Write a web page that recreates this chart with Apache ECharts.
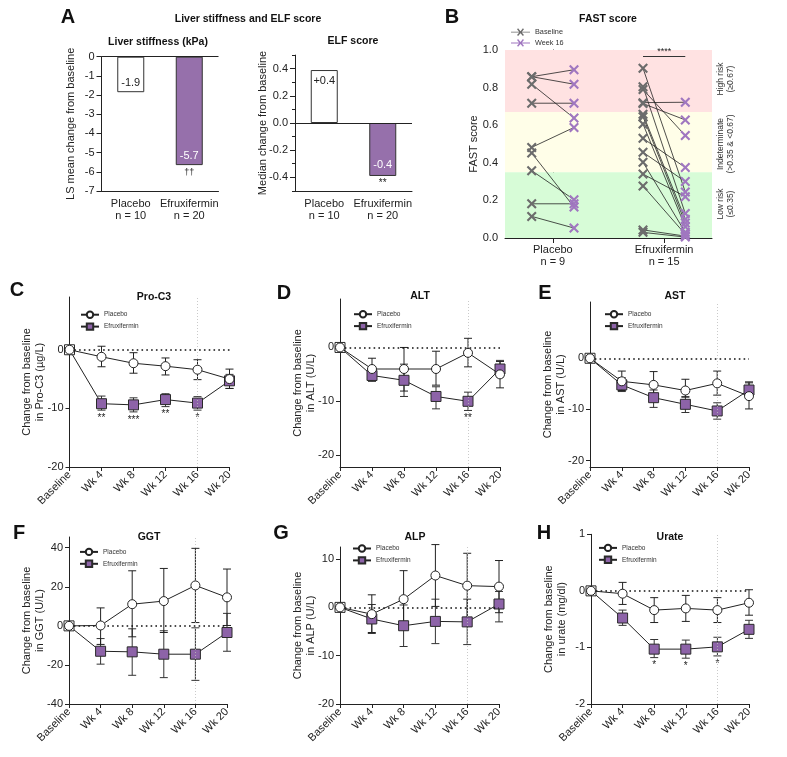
<!DOCTYPE html>
<html><head><meta charset="utf-8">
<script src="https://cdn.jsdelivr.net/npm/echarts@6/dist/echarts.min.js"></script>
<style>html,body{margin:0;padding:0;background:#fff}#c{width:787px;height:757px}</style>
</head><body><div id="c"></div>
<script>
// ---------------- DATA ----------------
const barGroups = ['Placebo\nn = 10', 'Efruxifermin\nn = 20'];
const liverStiffness = [-1.85, -5.65];
const liverStiffnessLabels = ['-1.9', '-5.7'];
const liverStiffnessSig = ['', '††'];
const elfScore = [0.39, -0.39];
const elfScoreLabels = ['+0.4', '-0.4'];
const elfScoreSig = ['', '**'];

const fastGroups = ['Placebo\nn = 9', 'Efruxifermin\nn = 15'];
const fastPlaceboBaseline = [0.858, 0.858, 0.818, 0.717, 0.482, 0.452, 0.358, 0.182, 0.115];
const fastPlaceboWeek16   = [0.895, 0.818, 0.638, 0.717, 0.588, 0.165, 0.204, 0.182, 0.053];
const fastEfxBaseline = [0.903, 0.805, 0.79, 0.72, 0.715, 0.658, 0.645, 0.606, 0.53, 0.456, 0.403, 0.34, 0.277, 0.043, 0.03];
const fastEfxWeek16   = [0.245, 0.13, 0.545, 0.722, 0.628, 0.10, 0.08, 0.06, 0.375, 0.30, 0.03, 0.22, 0.02, 0.01, 0.005];
const fastSig = '****';

const visits = ['Baseline', 'Wk 4', 'Wk 8', 'Wk 12', 'Wk 16', 'Wk 20'];

const proc3PboMean = [0, -1.2, -2.3, -2.8, -3.4, -5.0];
const proc3PboLo   = [0, -2.9, -4.0, -4.3, -5.1, -6.6];
const proc3PboHi   = [0, 0.6, -0.5, -1.4, -1.7, -3.3];
const proc3EfxMean = [0, -9.2, -9.4, -8.5, -9.1, -5.3];
const proc3EfxLo   = [0, -10.3, -10.6, -9.7, -10.3, -6.6];
const proc3EfxHi   = [0, -7.9, -8.2, -7.5, -8.0, -4.2];
const proc3Sig     = ['', '**', '***', '**', '*', ''];

const altPboMean = [0, -4.0, -4.0, -4.0, -1.0, -5.0];
const altPboLo   = [0, -6.0, -8.1, -7.0, -3.6, -7.5];
const altPboHi   = [0, -2.0, 0.0, -0.7, 1.7, -2.6];
const altEfxMean = [0, -5.2, -6.1, -9.1, -10.0, -4.0];
const altEfxLo   = [0, -6.3, -9.1, -11.4, -11.7, -5.5];
const altEfxHi   = [0, -4.0, -3.1, -7.3, -8.3, -2.4];
const altSig     = ['', '', '', '', '**', ''];

const astPboMean = [0, -4.5, -5.2, -6.3, -4.9, -7.4];
const astPboLo   = [0, -6.3, -7.5, -7.6, -7.2, -9.9];
const astPboHi   = [0, -2.5, -2.6, -4.1, -2.5, -4.8];
const astEfxMean = [0, -5.2, -7.7, -9.0, -10.3, -6.2];
const astEfxLo   = [0, -6.5, -9.6, -10.6, -11.9, -7.7];
const astEfxHi   = [0, -3.8, -6.2, -7.5, -8.7, -4.6];
const astSig     = ['', '', '', '', '', ''];

const ggtPboMean = [0, 0.2, 11.1, 12.7, 20.7, 14.6];
const ggtPboLo   = [0, -9.5, -5.6, -3.4, 1.7, 0.2];
const ggtPboHi   = [0, 9.2, 28.2, 29.4, 39.7, 29.1];
const ggtEfxMean = [0, -13.0, -13.3, -14.5, -14.5, -3.4];
const ggtEfxLo   = [0, -19.6, -25.3, -26.5, -27.9, -13.0];
const ggtEfxHi   = [0, -6.5, -1.5, -2.5, -1.0, 6.4];
const ggtSig     = ['', '', '', '', '', ''];

const alpPboMean = [0, -1.4, 1.7, 6.6, 4.5, 4.3];
const alpPboLo   = [0, -5.2, -4.3, 0.2, -2.1, -1.1];
const alpPboHi   = [0, 2.6, 7.6, 13.0, 11.2, 9.7];
const alpEfxMean = [0, -2.4, -3.8, -2.9, -3.0, 0.7];
const alpEfxLo   = [0, -5.4, -8.1, -7.5, -7.7, -3.0];
const alpEfxHi   = [0, 0.6, 0.5, 1.7, 1.7, 3.3];
const alpSig     = ['', '', '', '', '', ''];

const uratePboMean = [0, -0.05, -0.34, -0.31, -0.34, -0.21];
const uratePboLo   = [0, -0.24, -0.56, -0.54, -0.56, -0.43];
const uratePboHi   = [0, 0.15, -0.12, -0.08, -0.12, 0.02];
const urateEfxMean = [0, -0.48, -1.03, -1.03, -0.99, -0.68];
const urateEfxLo   = [0, -0.61, -1.18, -1.19, -1.15, -0.84];
const urateEfxHi   = [0, -0.34, -0.86, -0.87, -0.82, -0.52];
const urateSig     = ['', '', '*', '*', '*', ''];

// ---------------- STYLE / LAYOUT ----------------
const FONT = '"Liberation Sans", Arial, sans-serif';
const INK = '#222';
const BAR_PURPLE = '#9670ab';
const MK_PURPLE = '#8d63a8';
const X_PURPLE = '#a077c0';
const X_GRAY = '#6c6c6c';
const X_PATH = 'path://M0,1.5L1.5,0L5,3.5L8.5,0L10,1.5L6.5,5L10,8.5L8.5,10L5,6.5L1.5,10L0,8.5L3.5,5Z';
const LEG_X = 'path://M0,4L22,4L22,5L0,5Z M7,1.2L8.2,0L11,3.3L13.8,0L15,1.2L12.2,4.5L15,7.8L13.8,9L11,5.7L8.2,9L7,7.8L9.8,4.5Z';
const fastOffsets = [-0.19, 0.19];

const panels = [
  {title: 'Pro-C3', yName: 'Change from baseline\nin Pro-C3 (µg/L)', grid: {left: 69.5, top: 297, width: 160, height: 170},
   y: {min: -20, max: 9, ticks: [-20, -10, 0]}, legend: {left: 80, top: 310.5},
   pm: proc3PboMean, pl: proc3PboLo, ph: proc3PboHi, em: proc3EfxMean, el: proc3EfxLo, eh: proc3EfxHi, sig: proc3Sig},
  {title: 'ALT', yName: 'Change from baseline\nin ALT (U/L)', grid: {left: 340, top: 299, width: 160, height: 168},
   y: {min: -22.2, max: 9, ticks: [-20, -10, 0]}, legend: {left: 353, top: 310},
   pm: altPboMean, pl: altPboLo, ph: altPboHi, em: altEfxMean, el: altEfxLo, eh: altEfxHi, sig: altSig},
  {title: 'AST', yName: 'Change from baseline\nin AST (U/L)', grid: {left: 590, top: 302, width: 159, height: 165},
   y: {min: -21.25, max: 11, ticks: [-20, -10, 0]}, legend: {left: 604, top: 310},
   pm: astPboMean, pl: astPboLo, ph: astPboHi, em: astEfxMean, el: astEfxLo, eh: astEfxHi, sig: astSig},
  {title: 'GGT', yName: 'Change from baseline\nin GGT (U/L)', grid: {left: 69, top: 537, width: 158, height: 167},
   y: {min: -40, max: 45.5, ticks: [-40, -20, 0, 20, 40]}, legend: {left: 79, top: 547.7},
   pm: ggtPboMean, pl: ggtPboLo, ph: ggtPboHi, em: ggtEfxMean, el: ggtEfxLo, eh: ggtEfxHi, sig: ggtSig},
  {title: 'ALP', yName: 'Change from baseline\nin ALP (U/L)', grid: {left: 340, top: 547, width: 159, height: 157},
   y: {min: -20, max: 12.5, ticks: [-20, -10, 0, 10]}, legend: {left: 352, top: 544.3},
   pm: alpPboMean, pl: alpPboLo, ph: alpPboHi, em: alpEfxMean, el: alpEfxLo, eh: alpEfxHi, sig: alpSig},
  {title: 'Urate', yName: 'Change from baseline\nin urate (mg/dl)', grid: {left: 591, top: 534.3, width: 158, height: 169.7},
   y: {min: -2, max: 1, ticks: [-2, -1, 0, 1]}, legend: {left: 598, top: 543.7},
   pm: uratePboMean, pl: uratePboLo, ph: uratePboHi, em: urateEfxMean, el: urateEfxLo, eh: urateEfxHi, sig: urateSig}
];

const titles = [
  ['A', 68, 17, 'bold 20px'], ['B', 452, 17, 'bold 20px'],
  ['C', 17, 290, 'bold 20px'], ['D', 284, 293, 'bold 20px'], ['E', 545, 293, 'bold 20px'],
  ['F', 19, 533, 'bold 20px'], ['G', 281, 533, 'bold 20px'], ['H', 544, 533, 'bold 20px'],
  ['Liver stiffness and ELF score', 248, 19.5, 'bold 10.5px'],
  ['Liver stiffness (kPa)', 158, 42, 'bold 10.5px'],
  ['ELF score', 353, 41, 'bold 10.5px'],
  ['FAST score', 608, 19.5, 'bold 10.5px'],
  ['Pro-C3', 154, 297, 'bold 10.5px'], ['ALT', 420, 296, 'bold 10.5px'], ['AST', 675, 296, 'bold 10.5px'],
  ['GGT', 149, 537, 'bold 10.5px'], ['ALP', 415, 537, 'bold 10.5px'], ['Urate', 670, 537, 'bold 10.5px']
];
const bandLabels = [
  ['High risk\n(≥0.67)', 726, 79], ['Indeterminate\n(>0.35 & <0.67)', 726, 144], ['Low risk\n(≤0.35)', 726, 204]
];

// ---------------- BUILD ----------------
const grid = [], xAxis = [], yAxis = [], series = [], legend = [], graphic = [];

function yAx(gi, o) {
  return Object.assign({
    type: 'value', gridIndex: gi, position: 'left', nameLocation: 'middle', nameRotate: 90, nameMoveOverlap: false,
    nameTextStyle: {fontSize: 11, color: INK, lineHeight: 13, fontFamily: FONT},
    axisLine: {show: true, lineStyle: {color: INK, width: 1}},
    axisTick: {show: true, length: 5, lineStyle: {color: INK}},
    axisLabel: {fontSize: 11, color: INK, margin: 7, fontFamily: FONT},
    splitLine: {show: false}
  }, o);
}
const baseLine = {silent: true, symbol: 'none', label: {show: false}};

// --- A: liver stiffness ---
grid.push({left: 101.5, top: 56.7, width: 117, height: 134.3});
xAxis.push({type: 'category', gridIndex: 0, data: barGroups,
  axisLine: {onZero: false, lineStyle: {color: INK}}, axisTick: {alignWithLabel: true, length: 5, lineStyle: {color: INK}},
  axisLabel: {interval: 0, fontSize: 11, color: INK, margin: 7, lineHeight: 12, fontFamily: FONT}});
yAxis.push(yAx(0, {min: -7, max: 0, interval: 1, name: 'LS mean change from baseline', nameGap: 24}));
series.push({type: 'bar', xAxisIndex: 0, yAxisIndex: 0, barWidth: 27, z: 3,
  data: liverStiffness.map((v, i) => ({value: v,
    itemStyle: {color: i ? BAR_PURPLE : '#fff', borderColor: '#333', borderWidth: 1},
    label: {show: true, position: 'insideBottom', distance: 4, color: i ? '#fff' : INK, fontSize: 11, fontFamily: FONT, formatter: liverStiffnessLabels[i]}})),
  markLine: Object.assign({}, baseLine, {lineStyle: {color: INK, width: 1, type: 'solid'}, data: [{yAxis: 0}]})});
series.push({type: 'bar', xAxisIndex: 0, yAxisIndex: 0, barWidth: 27, barGap: '-100%', silent: true, z: 2,
  itemStyle: {color: 'rgba(0,0,0,0)'},
  data: liverStiffness.map((v, i) => ({value: v,
    label: {show: !!liverStiffnessSig[i], position: 'bottom', distance: 3, color: INK, fontSize: 9, fontFamily: FONT, formatter: liverStiffnessSig[i] || ' '}}))});

// --- A: ELF ---
grid.push({left: 295, top: 55.1, width: 117, height: 135.8});
xAxis.push({type: 'category', gridIndex: 1, data: barGroups,
  axisLine: {onZero: false, lineStyle: {color: INK}}, axisTick: {alignWithLabel: true, length: 5, lineStyle: {color: INK}},
  axisLabel: {interval: 0, fontSize: 11, color: INK, margin: 7, lineHeight: 12, fontFamily: FONT}});
yAxis.push(yAx(1, {min: -0.5, max: 0.5, name: 'Median change from baseline', nameGap: 26,
  axisTick: {show: true, length: 5, customValues: [-0.4, -0.2, 0, 0.2, 0.4], lineStyle: {color: INK}},
  axisLabel: {fontSize: 11, color: INK, margin: 7, fontFamily: FONT, customValues: [-0.4, -0.2, 0, 0.2, 0.4], formatter: v => (Math.abs(v) < 1e-9 ? 0 : v).toFixed(1)}}));
yAxis.push(yAx(1, {min: -0.5, max: 0.5, axisLine: {show: false},
  axisTick: {show: true, length: 3, customValues: [-0.5, -0.3, -0.1, 0.1, 0.3, 0.5], lineStyle: {color: INK}},
  axisLabel: {show: false}}));
series.push({type: 'bar', xAxisIndex: 1, yAxisIndex: 1, barWidth: 27, z: 3,
  data: elfScore.map((v, i) => ({value: v,
    itemStyle: {color: i ? BAR_PURPLE : '#fff', borderColor: '#333', borderWidth: 1},
    label: {show: true, position: v >= 0 ? 'insideTop' : 'insideBottom', distance: 5, color: i ? '#fff' : INK, fontSize: 11, fontFamily: FONT, formatter: elfScoreLabels[i]}})),
  markLine: Object.assign({}, baseLine, {lineStyle: {color: INK, width: 1, type: 'solid'}, data: [{yAxis: 0}]})});
series.push({type: 'bar', xAxisIndex: 1, yAxisIndex: 1, barWidth: 27, barGap: '-100%', silent: true, z: 2,
  itemStyle: {color: 'rgba(0,0,0,0)'},
  data: elfScore.map((v, i) => ({value: v,
    label: {show: !!elfScoreSig[i], position: 'bottom', distance: 2, color: INK, fontSize: 10, fontFamily: FONT, formatter: elfScoreSig[i] || ' '}}))});

// --- B: FAST ---
grid.push({left: 505, top: 50, width: 207, height: 188});
xAxis.push({type: 'value', gridIndex: 2, min: -0.43, max: 1.43, splitLine: {show: false},
  axisLine: {onZero: false, lineStyle: {color: INK}},
  axisTick: {length: 5, customValues: [0, 1], lineStyle: {color: INK}},
  axisLabel: {customValues: [0, 1], formatter: v => fastGroups[Math.round(v)], fontSize: 11, color: INK, margin: 6, lineHeight: 12, fontFamily: FONT}});
yAxis.push(yAx(2, {min: 0, max: 1, interval: 0.2, name: 'FAST score', nameGap: 25,
  axisLabel: {fontSize: 11, color: INK, margin: 7, fontFamily: FONT, formatter: v => v.toFixed(1)}}));
const fastPairs = [];
fastPlaceboBaseline.forEach((b, i) => fastPairs.push([0, b, fastPlaceboWeek16[i]]));
fastEfxBaseline.forEach((b, i) => fastPairs.push([1, b, fastEfxWeek16[i]]));
series.push({type: 'scatter', name: 'bands', xAxisIndex: 2, yAxisIndex: 3, data: [], z: 1, silent: true,
  markArea: {silent: true, label: {show: false}, data: [
    [{yAxis: 0.67, itemStyle: {color: '#ffe2e2'}}, {yAxis: 1}],
    [{yAxis: 0.35, itemStyle: {color: '#fffee8'}}, {yAxis: 0.67}],
    [{yAxis: 0, itemStyle: {color: '#d7fcd7'}}, {yAxis: 0.35}]
  ]}});
series.push({type: 'custom', name: 'pairs', xAxisIndex: 2, yAxisIndex: 3, z: 3, silent: true,
  encode: {x: 0, y: [1, 2]}, data: fastPairs,
  renderItem: (params, api) => {
    const g = api.value(0);
    const a = api.coord([g + fastOffsets[0], api.value(1)]);
    const b = api.coord([g + fastOffsets[1], api.value(2)]);
    return {type: 'line', shape: {x1: a[0], y1: a[1], x2: b[0], y2: b[1]}, style: {stroke: '#222', lineWidth: 0.8}};
  }});
series.push({type: 'scatter', name: 'Baseline', xAxisIndex: 2, yAxisIndex: 3, z: 4, symbol: X_PATH, symbolSize: 10,
  itemStyle: {color: X_GRAY, opacity: 1}, data: fastPairs.map(p => [p[0] + fastOffsets[0], p[1]])});
series.push({type: 'scatter', name: 'Week 16', xAxisIndex: 2, yAxisIndex: 3, z: 4, symbol: X_PATH, symbolSize: 10,
  itemStyle: {color: X_PURPLE, opacity: 1}, data: fastPairs.map(p => [p[0] + fastOffsets[1], p[2]]),
  markLine: {silent: true, symbol: 'none', lineStyle: {color: '#333', width: 1, type: 'solid'},
    label: {show: true, position: 'middle', formatter: fastSig, fontSize: 9, color: INK, distance: 1},
    data: [[{coord: [1 + fastOffsets[0], 0.965]}, {coord: [1 + fastOffsets[1], 0.965]}]]}});
legend.push({left: 511, top: 28.3, padding: 0, orient: 'vertical', itemWidth: 19, itemHeight: 8, itemGap: 3, selectedMode: false,
  textStyle: {fontSize: 7.3, color: '#333', fontFamily: FONT},
  data: [{name: 'Baseline', icon: LEG_X}, {name: 'Week 16', icon: LEG_X}]});
bandLabels.forEach(t => graphic.push({type: 'text', x: t[1], y: t[2], rotation: Math.PI / 2, silent: true,
  style: {text: t[0], font: '8.5px ' + FONT, fill: '#333', align: 'center', verticalAlign: 'middle', lineHeight: 10}}));

// --- C-H line panels ---
function errRender(color, sigs) {
  return (params, api) => {
    const x = api.value(0), lo = api.value(1), hi = api.value(2);
    if (lo === hi) return null;
    const a = api.coord([x, lo]), b = api.coord([x, hi]), w = 4;
    const st = {stroke: color, lineWidth: 1};
    const ch = [
      {type: 'line', shape: {x1: a[0], y1: a[1], x2: b[0], y2: b[1]}, style: st},
      {type: 'line', shape: {x1: a[0] - w, y1: a[1], x2: a[0] + w, y2: a[1]}, style: st},
      {type: 'line', shape: {x1: b[0] - w, y1: b[1], x2: b[0] + w, y2: b[1]}, style: st}
    ];
    const s = sigs && sigs[params.dataIndex];
    if (s) ch.push({type: 'text', x: a[0], y: a[1] + 3, style: {text: s, font: '10px ' + FONT, fill: INK, align: 'center', verticalAlign: 'top'}});
    return {type: 'group', children: ch};
  };
}
panels.forEach((p, k) => {
  const gi = 3 + k, yi = 4 + k;
  grid.push(p.grid);
  xAxis.push({type: 'category', gridIndex: gi, data: visits, boundaryGap: false,
    axisLine: {onZero: false, lineStyle: {color: INK}},
    axisTick: {length: 4, alignWithLabel: true, lineStyle: {color: INK}},
    axisLabel: {rotate: 45, interval: 0, fontSize: 11, color: INK, margin: 6, fontFamily: FONT}});
  yAxis.push(yAx(gi, {min: p.y.min, max: p.y.max, name: p.yName, nameGap: 23,
    axisTick: {show: true, length: 4, customValues: p.y.ticks, lineStyle: {color: INK}},
    axisLabel: {fontSize: 11, color: INK, margin: 6, fontFamily: FONT, customValues: p.y.ticks}}));
  series.push({type: 'custom', name: 'errE' + k, xAxisIndex: gi, yAxisIndex: yi, z: 2, silent: true,
    encode: {x: 0, y: [1, 2]}, data: p.el.map((v, i) => [i, v, p.eh[i]]), renderItem: errRender('#333', p.sig)});
  series.push({type: 'custom', name: 'errP' + k, xAxisIndex: gi, yAxisIndex: yi, z: 2, silent: true,
    encode: {x: 0, y: [1, 2]}, data: p.pl.map((v, i) => [i, v, p.ph[i]]), renderItem: errRender('#222', null)});
  series.push({type: 'line', name: 'Efruxifermin', xAxisIndex: gi, yAxisIndex: yi, z: 4,
    symbol: 'rect', symbolSize: 10, showAllSymbol: true,
    itemStyle: {color: MK_PURPLE, borderColor: '#2a2a2a', borderWidth: 1},
    lineStyle: {color: INK, width: 1},
    data: p.em.map((v, i) => i === 0 ? {value: v, itemStyle: {color: '#fff'}} : v)});
  series.push({type: 'line', name: 'Placebo', xAxisIndex: gi, yAxisIndex: yi, z: 5,
    symbol: 'circle', symbolSize: 9, showAllSymbol: true,
    itemStyle: {color: '#fff', borderColor: '#222', borderWidth: 1},
    lineStyle: {color: INK, width: 1},
    data: p.pm,
    markLine: {silent: true, symbol: 'none', label: {show: false}, data: [
      {yAxis: 0, lineStyle: {color: '#111', width: 1.6, type: [1.6, 3.2]}},
      {xAxis: 4, lineStyle: {color: '#bdbdbd', width: 0.8, type: [1, 2]}}
    ]}});
  legend.push({left: p.legend.left, top: p.legend.top, padding: 0, orient: 'vertical', itemWidth: 18, itemHeight: 8, itemGap: 3.5,
    selectedMode: false, textStyle: {fontSize: 6.5, color: '#333', fontFamily: FONT},
    data: ['Placebo', 'Efruxifermin']});
});

titles.forEach(t => graphic.push({type: 'text', x: t[1], y: t[2], silent: true,
  style: {text: t[0], font: t[3] + ' ' + FONT, fill: '#111', align: 'center', verticalAlign: 'middle'}}));

const chart = echarts.init(document.getElementById('c'), null, {renderer: 'canvas'});
chart.setOption({animation: false, textStyle: {fontFamily: FONT}, grid, xAxis, yAxis, series, legend, graphic});
</script>
</body></html>
